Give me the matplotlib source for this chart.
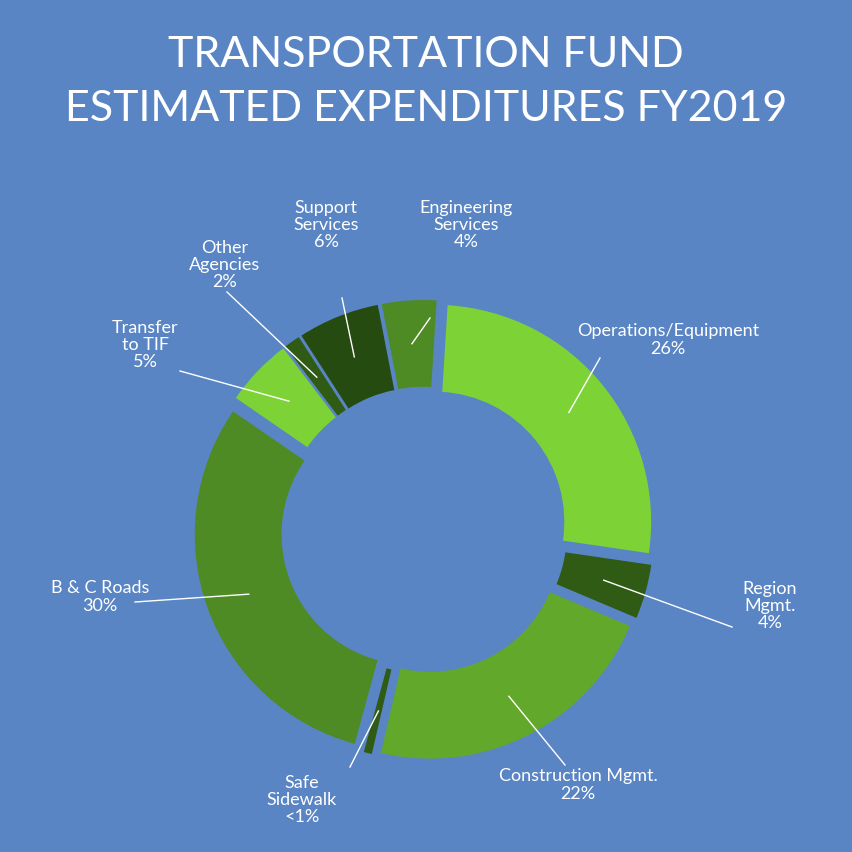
import numpy as np
import matplotlib
matplotlib.use("Agg")
import matplotlib.pyplot as plt

labels = ["Engineering\nServices\n4%", "Operations/Equipment\n26%", "Region\nMgmt.\n4%",
          "Construction Mgmt.\n22%", "Safe\nSidewalk\n<1%", "B & C Roads\n30%",
          "Transfer\nto TIF\n5%", "Other\nAgencies\n2%", "Support\nServices\n6%"]
values = [4, 26, 4, 22, 0.6, 30, 5, 1.2, 6]
colors = ["#4F8B25", "#7DD336", "#2F5B15", "#62A82B", "#2F5B15", "#4F8B25",
          "#7DD336", "#2F5B15", "#264B11"]
# label text positions in pixels (layout)
text_px = [(466, 225), (668, 340), (770, 606), (578, 785), (302, 800),
           (100, 597), (145, 345), (225, 265), (326, 225)]
line_start_px = [(430, 318), (600, 358), (732, 627), (565, 765), (350, 767),
                 (135, 602), (180, 371), (227, 292), (342, 298)]

W = 852; cx, cy, R = 424, 530, 217
def p2d(px, py):
    return (px - cx) / R, (cy - py) / R

fig = plt.figure(figsize=(8.52, 8.52), dpi=100, facecolor="#5985C4")
ax = fig.add_axes([0, 0, 1, 1])
ax.set_facecolor("#5985C4")

explode = [0.06] * len(values)
start = 101
wedges, _ = ax.pie(values, colors=colors, startangle=start, counterclock=False,
                   explode=explode, radius=1.0,
                   wedgeprops=dict(width=0.4, linewidth=0))
ax.set_aspect("auto")
ax.set_xlim(-cx / R, (W - cx) / R)
ax.set_ylim(-(W - cy) / R, cy / R)
ax.axis("off")

tot = sum(values)
ang = start
for i, v in enumerate(values):
    mid = ang - v / tot * 360 / 2
    ang -= v / tot * 360
    th = np.deg2rad(mid)
    r = 0.8 + explode[i]
    tip = (r * np.cos(th), r * np.sin(th))
    ls = p2d(*line_start_px[i])
    ax.plot([ls[0], tip[0]], [ls[1], tip[1]], color="white", lw=1)
    tx, ty = p2d(*text_px[i])
    ax.text(tx, ty, labels[i], color="white", ha="center", va="center",
            fontsize=13, family="Lato", linespacing=1.1)

fig.text(0.5, 0.935, "TRANSPORTATION FUND", color="white", ha="center",
         va="center", fontsize=31, family="Lato")
fig.text(0.5, 0.872, "ESTIMATED EXPENDITURES FY2019", color="white", ha="center",
         va="center", fontsize=31, family="Lato")
fig.savefig("out.png", dpi=100, facecolor=fig.get_facecolor())
